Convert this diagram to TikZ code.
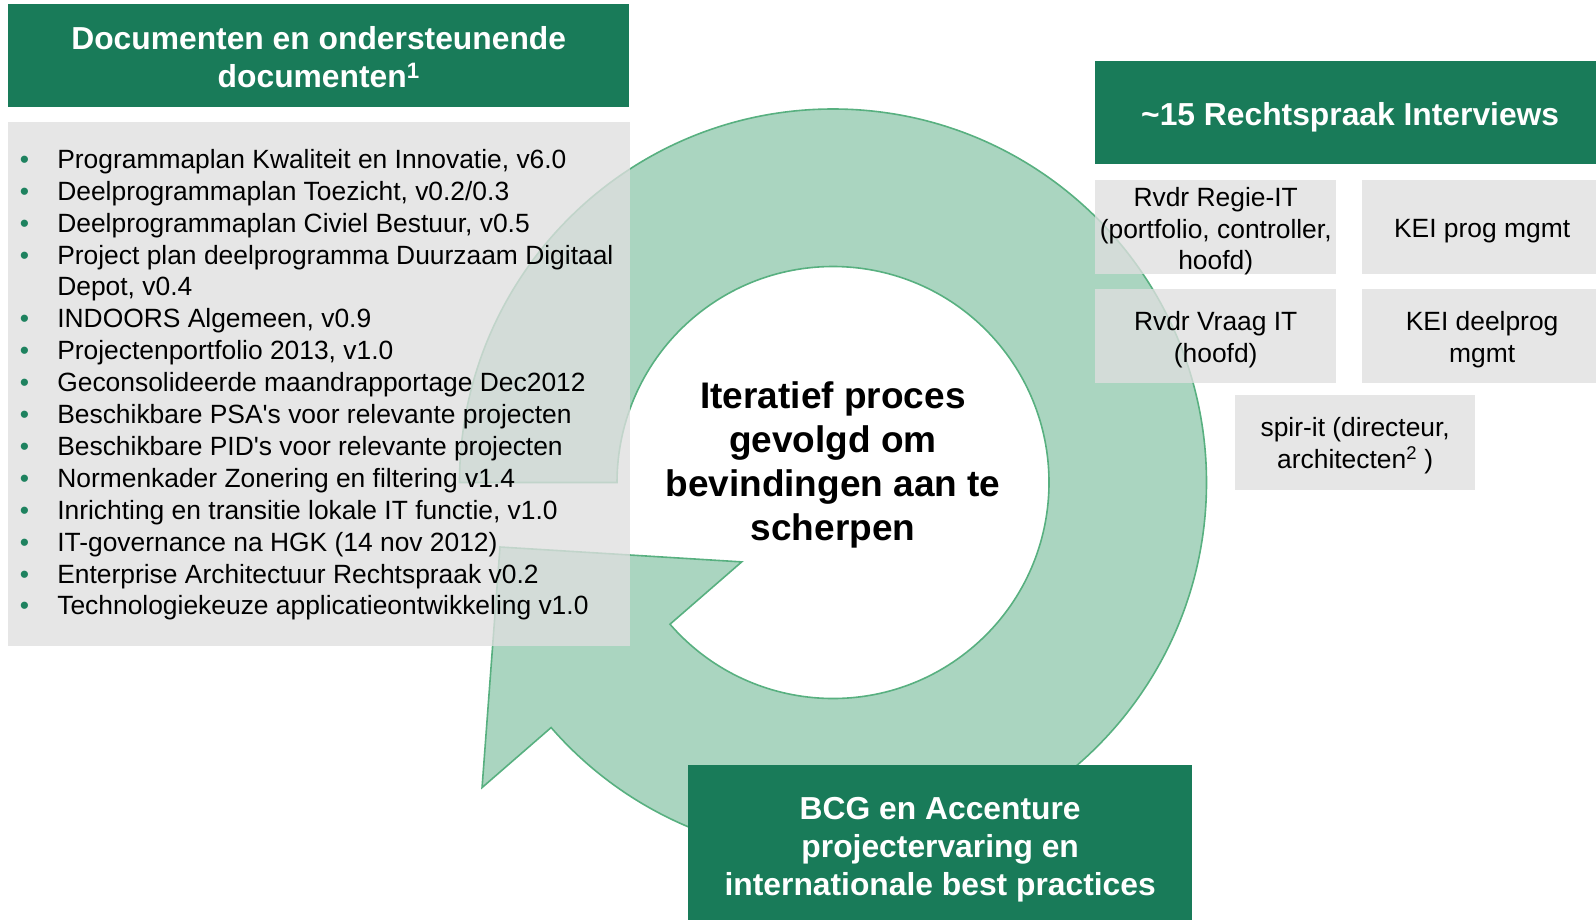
\documentclass[tikz,border=0pt]{standalone}
\usepackage{fontspec}
\setmainfont{Liberation Sans}
\usepackage{tikz}
\usetikzlibrary{positioning,calc}
\usepackage{xcolor}
\definecolor{HeaderGreen}{RGB}{25,123,89}
\definecolor{RingFill}{RGB}{170,213,192}
\definecolor{RingEdge}{RGB}{88,176,128}
\definecolor{PanelGray}{RGB}{223,223,223}
\definecolor{BulletGreen}{RGB}{30,130,95}

\begin{document}
\begin{tikzpicture}[
    x=1pt, y=-1pt,
    every node/.style={font=\fontsize{26.4}{31.9}\selectfont, inner sep=0pt},
    header/.style={fill=HeaderGreen, anchor=north west},
    headtext/.style={text=white, align=center, font=\fontsize{31.8}{38}\selectfont\bfseries},
    panel/.style={fill=PanelGray, fill opacity=0.78, anchor=north west},
    rolebox/.style={panel, minimum width=241pt, minimum height=94pt},
    roletext/.style={align=center},
    doc/.style={anchor=base west},
    dot/.style={anchor=base, text=BulletGreen},
]
\useasboundingbox (0,0) rectangle (1596,919);

% ring arrow
\coordinate (ringc) at (833,482.5);
\coordinate (tip) at (500,547);
\draw[RingEdge, fill=RingFill, line width=1.6pt]
    ($(ringc)+(180:373.5)$) arc[start angle=180, end angle=499, radius=373.5]
    -- ($(ringc)+(139:465)$) -- (tip) -- ($(ringc)+(139:121)$)
    -- ($(ringc)+(139:216)$) arc[start angle=499, end angle=180, radius=216]
    -- cycle;

% documents
\node[panel, minimum width=622pt, minimum height=523.5pt] (docs) at (8,122) {};
\foreach \txt [count=\i from 0] in {
    {Programmaplan Kwaliteit en Innovatie, v6.0},
    {Deelprogrammaplan Toezicht, v0.2/0.3},
    {Deelprogrammaplan Civiel Bestuur, v0.5},
    {Project plan deelprogramma Duurzaam Digitaal},
    {Depot, v0.4},
    {INDOORS Algemeen, v0.9},
    {Projectenportfolio 2013, v1.0},
    {Geconsolideerde maandrapportage Dec2012},
    {Beschikbare PSA\textquotesingle s voor relevante projecten},
    {Beschikbare PID\textquotesingle s voor relevante projecten},
    {Normenkader Zonering en filtering v1.4},
    {Inrichting en transitie lokale IT functie, v1.0},
    {IT-governance na HGK (14 nov 2012)},
    {Enterprise Architectuur Rechtspraak v0.2},
    {Technologiekeuze applicatieontwikkeling v1.0}}
    \node[doc] (doc\i) at (57.1,{168.3+31.9*\i}) {\txt};
\foreach \i in {0,1,2,3,5,6,...,14}
    \node[dot] (dot\i) at (24.5,{168.3+31.9*\i}) {\textbullet};

% interviews
\node[rolebox] (regie) at (1095,180) {};
\node[rolebox, right=25pt of regie] (keiprog) {};
\node[rolebox, below=14pt of regie] (vraag) {};
\node[rolebox, right=25pt of vraag] (keideel) {};
\node[rolebox, minimum width=240pt, minimum height=95pt] (spirit) at (1235,395) {};
\node[roletext] (regie-t) at ([yshift=-4pt]regie.center) {Rvdr Regie-IT\\(portfolio, controller,\\hoofd)};
\node[roletext] (keiprog-t) at ([yshift=-4pt]keiprog.center) {KEI prog mgmt};
\node[roletext] (vraag-t) at ([yshift=-4pt]vraag.center) {Rvdr Vraag IT\\(hoofd)};
\node[roletext] (keideel-t) at ([yshift=-4pt]keideel.center) {KEI deelprog\\mgmt};
\node[roletext] (spirit-t) at ([yshift=-3pt]spirit.center) {spir-it (directeur,\\architecten\textsuperscript{2} )};

% headers
\node[header, minimum width=621pt, minimum height=103pt] (hdocs) at (8,4) {};
\node[headtext] (hdocs-t) at ([yshift=-1pt]hdocs.center)
    {Documenten en ondersteunende\\documenten\textsuperscript{1}};
\node[header, minimum width=510pt, minimum height=103pt] (hinterviews) at (1095,61) {};
\node[headtext] (hinterviews-t) at ([yshift=-5pt]hinterviews.center)
    {\textasciitilde 15 Rechtspraak Interviews};
\node[header, minimum width=504pt, minimum height=162pt] (hbcg) at (688,765) {};
\node[headtext] (hbcg-t) at ([yshift=-3pt]hbcg.center)
    {BCG en Accenture\\projectervaring en\\internationale best practices};

\node[font=\fontsize{37}{44}\selectfont\bfseries, align=center] (proces) at (833,465)
    {Iteratief proces\\gevolgd om\\bevindingen aan te\\scherpen};
\end{tikzpicture}
\end{document}
